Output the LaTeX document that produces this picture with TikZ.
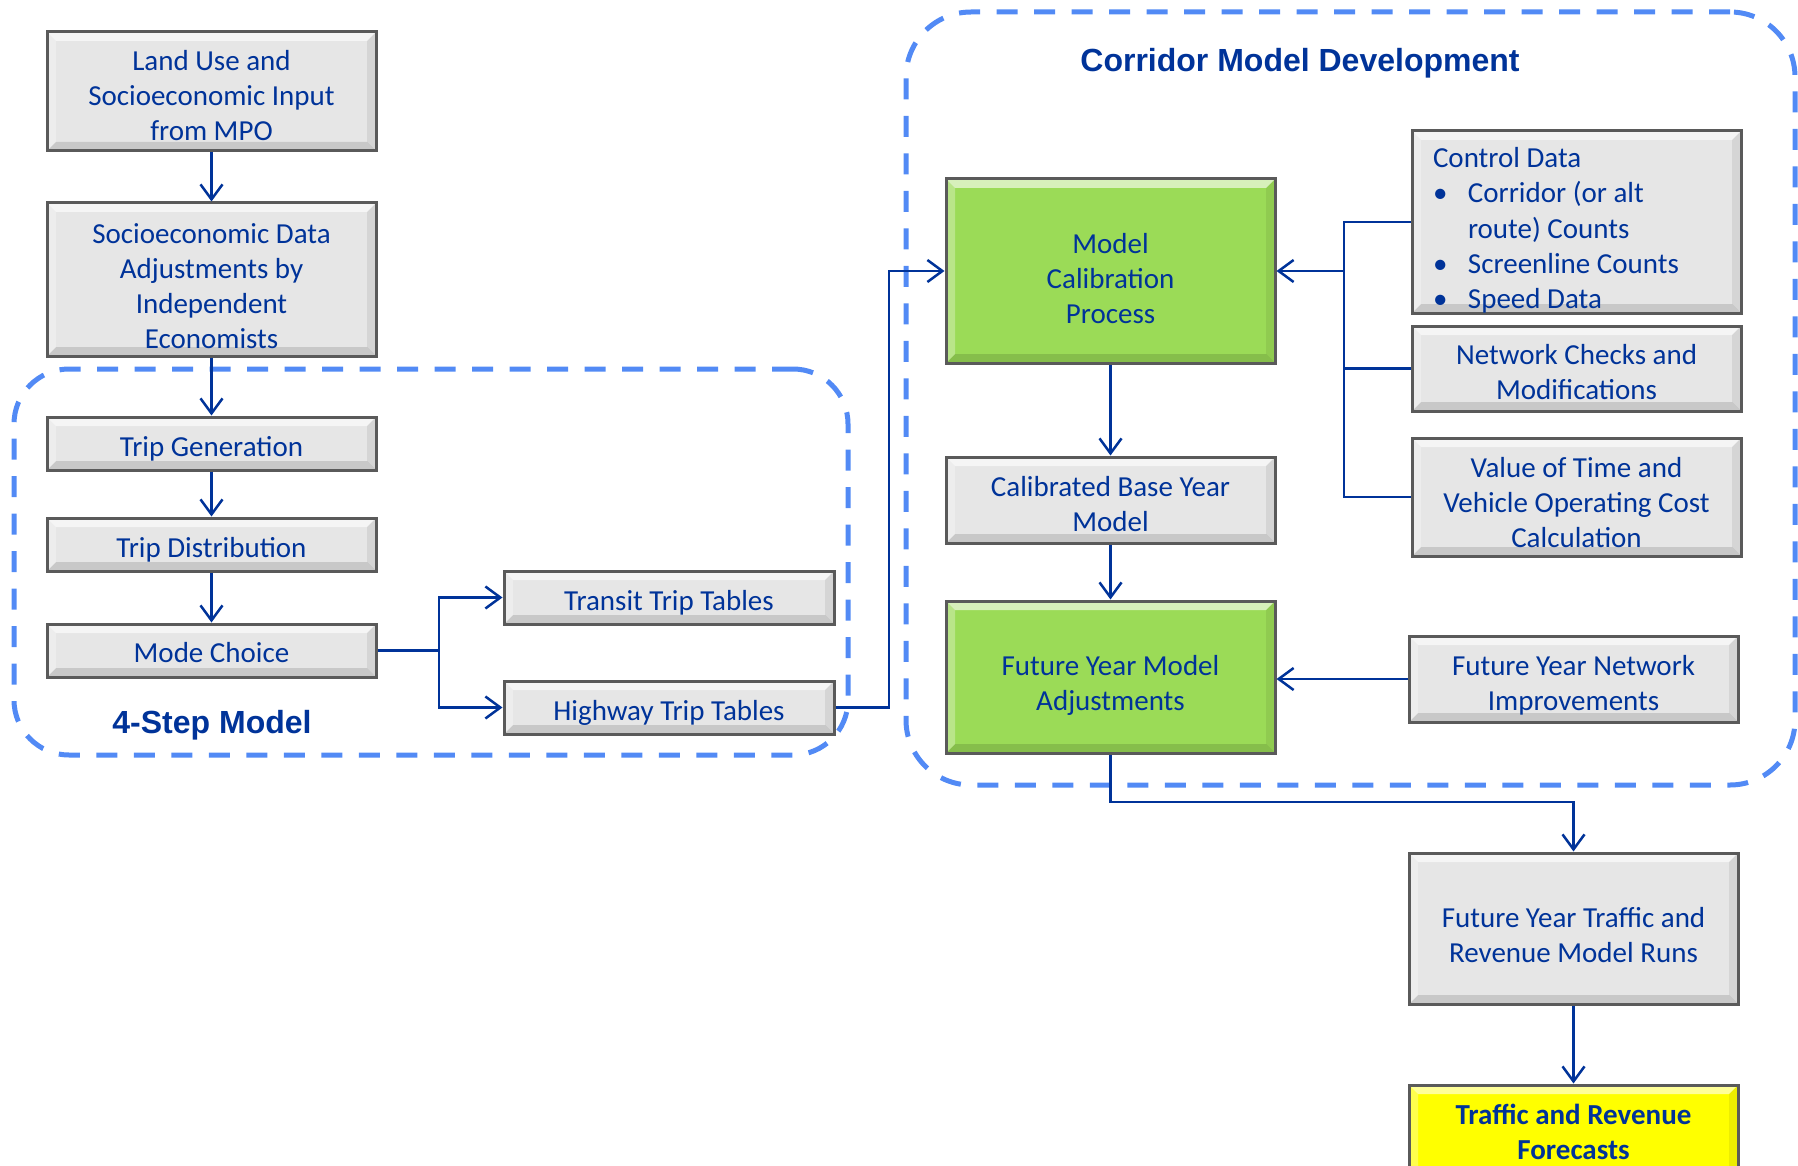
\documentclass[tikz,border=0pt]{standalone}
\usepackage{fontspec}
\setmainfont{Carlito}
\newfontfamily\arialfont{Liberation Sans}
\usetikzlibrary{arrows.meta,calc}
\definecolor{navy}{RGB}{0,51,153}
\definecolor{dashblue}{RGB}{82,138,245}
\definecolor{boxgray}{RGB}{230,230,230}
\definecolor{boxgreen}{RGB}{155,219,87}
\definecolor{boxyellow}{RGB}{255,255,0}
\definecolor{edgegray}{RGB}{90,90,90}
\tikzset{
 bevel/.style={path picture={
   \fill[white,opacity=0.6] (path picture bounding box.north west) -- (path picture bounding box.north east) -- ([shift={(-9pt,-9pt)}]path picture bounding box.north east) -- ([shift={(9pt,-9pt)}]path picture bounding box.north west) -- cycle;
   \fill[black,opacity=0.13] (path picture bounding box.south west) -- (path picture bounding box.south east) -- ([shift={(-9pt,9pt)}]path picture bounding box.south east) -- ([shift={(9pt,9pt)}]path picture bounding box.south west) -- cycle;
   \fill[white,opacity=0.3] (path picture bounding box.north west) -- ([shift={(9pt,-9pt)}]path picture bounding box.north west) -- ([shift={(9pt,9pt)}]path picture bounding box.south west) -- (path picture bounding box.south west) -- cycle;
   \fill[black,opacity=0.07] (path picture bounding box.north east) -- ([shift={(-9pt,-9pt)}]path picture bounding box.north east) -- ([shift={(-9pt,9pt)}]path picture bounding box.south east) -- (path picture bounding box.south east) -- cycle;
 }},
 box/.style={draw=edgegray, line width=3pt, fill=boxgray, bevel, minimum width=329pt, inner sep=0pt, align=center, text=navy, font=\fontsize{29}{35}\selectfont, text depth=0pt},
 tb/.style={text height=#1pt},
 gbox/.style={box, fill=boxgreen},
 ybox/.style={box, fill=boxyellow, font=\fontsize{29}{35}\selectfont\bfseries},
 conn/.style={draw=navy, line width=2.5pt},
 arr/.style={conn, -{Straight Barb[length=15pt,width=22pt]}},
 group/.style={draw=dashblue, line width=5pt, dash pattern=on 21pt off 16.5pt, inner sep=0pt},
 grouptitle/.style={text=navy, font=\arialfont\bfseries\fontsize{32}{38}\selectfont},
}
\begin{document}
\begin{tikzpicture}[x=1pt,y=-1pt]
\useasboundingbox (0,0) rectangle (1798,1166);
% boxes
\node[box, tb=98, minimum height=119pt] (land) at (211.5,91.5) {Land Use and\\Socioeconomic Input\\from MPO};
\node[box, tb=137, minimum height=153pt] (socio) at (211.5,279.5) {Socioeconomic Data\\Adjustments by\\Independent\\Economists};
\node[box, tb=25, minimum height=53pt] (tgen) at (211.5,443.5) {Trip Generation};
\node[box, tb=25, minimum height=53pt] (tdist) at (211.5,544.5) {Trip Distribution};
\node[box, tb=24, minimum height=53pt] (mode) at (211.5,650.5) {Mode Choice};
\node[box, tb=25, minimum width=330pt, minimum height=53pt] (transit) at (669,597.5) {Transit Trip Tables};
\node[box, tb=25, minimum width=330pt, minimum height=53pt] (highway) at (669,707.5) {Highway Trip Tables};
\node[gbox, tb=105, minimum height=184pt] (calib) at (1110.5,271) {Model\\Calibration\\Process};
\node[box, tb=62, minimum height=86pt] (base) at (1110.5,500) {Calibrated Base Year\\Model};
\node[box, tb=172, minimum height=182pt, align=left] (control) at (1576.5,222)
 {\makebox[287pt][l]{Control Data}\\
  \makebox[35pt][l]{•}Corridor (or alt\\
  \hspace*{35pt}route) Counts\\
  \makebox[35pt][l]{•}Screenline Counts\\
  \makebox[35pt][l]{•}Speed Data};
\node[box, tb=61, minimum height=85pt] (netchk) at (1576.5,368.5) {Network Checks and\\Modifications};
\node[box, tb=100, minimum height=118pt] (vot) at (1576.5,497) {Value of Time and\\Vehicle Operating Cost\\Calculation};
\node[gbox, tb=66, minimum height=152pt] (fyma) at (1110.5,677) {Future Year Model\\Adjustments};
\node[box, tb=62, minimum height=86pt] (fyni) at (1573.5,679) {Future Year Network\\Improvements};
\node[box, tb=67, minimum height=151pt] (fyt) at (1573.5,928.5) {Future Year Traffic and\\Revenue Model Runs};
\node[ybox, tb=54, minimum height=95pt] (trf) at (1573.5,1132.5) {Traffic and Revenue\\Forecasts};
% groups
\node[group, rounded corners=55pt, minimum width=834pt, minimum height=386pt] (step4) at (431,562) {};
\node[group, rounded corners=65pt, minimum width=889pt, minimum height=773pt] (corridor) at (1350.5,398.5) {};
\node[grouptitle] (ttl4) at (212,725.5) {4-Step Model};
\node[grouptitle] (ttlc) at (1300,63.5) {Corridor Model Development};
% connectors
\draw[arr] (land.south) -- (socio.north);
\draw[arr] (socio.south) -- (tgen.north);
\draw[arr] (tgen.south) -- (tdist.north);
\draw[arr] (tdist.south) -- (mode.north);
\coordinate (mcsplit) at (439,650.5);
\draw[conn] (mode.east) -- (mcsplit);
\draw[arr] (mcsplit) |- (transit.west);
\draw[arr] (mcsplit) |- (highway.west);
\coordinate (hwturn) at (889,707.5);
\draw[arr] (highway.east) -- (hwturn) |- (calib.west);
\coordinate (bus) at (1344,271);
\draw[conn] (control.west) -| (bus);
\draw[conn] (netchk.west) -| (bus);
\draw[conn] (vot.west) -| (bus);
\draw[arr] (bus) -- (calib.east);
\draw[arr] (calib.south) -- (base.north);
\draw[arr] (base.south) -- (fyma.north);
\draw[arr] (fyni.west) -- (fyni.west -| fyma.east);
\coordinate (fyturn) at (1110.5,802);
\draw[arr] (fyma.south) -- (fyturn) -| (fyt.north);
\draw[arr] (fyt.south) -- (trf.north);
\end{tikzpicture}
\end{document}
